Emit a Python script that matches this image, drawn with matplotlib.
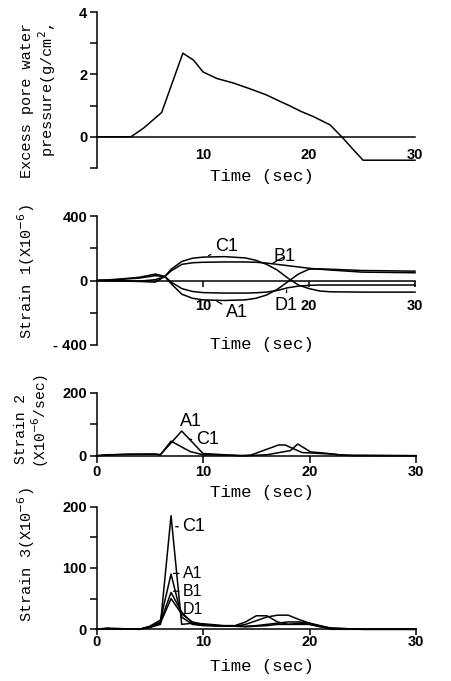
import matplotlib
matplotlib.use("Agg")
import matplotlib.pyplot as plt
from matplotlib.ticker import MultipleLocator

# panel 1: excess pore water pressure
t_pwp = [0, 3.2, 4.4, 6.1, 8.1, 9.1, 10.0, 11.3, 12.9, 14.5, 16.0, 17.3, 18.2, 19.2, 20.4, 22.0, 23.2, 24.2, 25.1, 30]
pwp = [0, 0, 0.28, 0.78, 2.68, 2.46, 2.08, 1.87, 1.72, 1.53, 1.34, 1.13, 0.99, 0.82, 0.65, 0.38, -0.04, -0.42, -0.75, -0.75]

# panel 2: strain 1
t_s1 = [0, 2, 4, 5.5, 6.4, 7, 8, 9, 10, 12, 14, 15, 16, 17, 18, 19, 20, 21, 22, 25, 30]
s1_a1 = [0, 8, 20, 40, 25, -20, -85, -110, -120, -124, -120, -110, -90, -55, -8, 40, 70, 72, 70, 62, 58]
s1_b1 = [0, 6, 15, 30, 25, 60, 100, 110, 113, 115, 115, 113, 108, 100, 92, 84, 76, 70, 65, 52, 48]
s1_c1 = [0, -3, -6, -10, 25, 70, 118, 138, 145, 148, 140, 125, 100, 65, 15, -28, -50, -65, -70, -72, -72]
s1_d1 = [0, -2, -4, 5, 25, -10, -50, -68, -75, -78, -78, -76, -72, -62, -45, -35, -30, -28, -28, -28, -28]

# panel 3: strain 2 (rate)
t_s2_a1 = [0, 1, 3, 5.5, 6, 8.0, 10, 12, 13.5, 14.5, 17.1, 17.7, 19.3, 20.5, 22, 24, 30]
s2_a1 = [0, 3, 4, 5, 3, 78, 7, 3, 0, 2, 34, 34, 10, 8, 5, 0, 0]
t_s2_c1 = [0, 1, 3, 5.5, 6, 7.0, 8.8, 10, 12, 14, 16, 17.5, 18.2, 18.9, 20.1, 21.5, 23, 30]
s2_c1 = [0, 2, 5, 5, 3, 46, 13, 3, 2, 0, 3, 12, 16, 37, 12, 8, 2, 0]

# panel 4: strain 3
t_s3 = [0, 1, 4, 5, 6, 7, 8, 9, 10, 12, 13, 14, 15, 16, 17, 18, 19, 20, 21, 22, 25, 30]
s3_c1 = [0, 2, 0, 3, 8, 185, 8, 10, 9, 6, 6, 12, 22, 22, 12, 8, 8, 8, 4, 1, 0, 0]
s3_a1 = [0, 1, 0, 5, 15, 90, 20, 8, 6, 5, 5, 8, 14, 20, 23, 23, 16, 10, 5, 0, 0, 0]
s3_b1 = [0, 1, 0, 4, 12, 60, 28, 10, 7, 5, 5, 5, 6, 8, 10, 12, 12, 10, 6, 2, 0, 0]
s3_d1 = [0, 1, 0, 3, 10, 50, 25, 12, 8, 5, 5, 4, 5, 6, 8, 8, 10, 8, 5, 2, 0, 0]

W, H = 451, 681
fig = plt.figure(figsize=(W / 100, H / 100), dpi=100)

tickfont = dict(family="Liberation Sans", weight="bold", size=10.5)
mono = "Liberation Mono"
lab = dict(family="Liberation Sans", size=13)
lab_small = dict(family="Liberation Sans", size=11.5)


def box(x0, ytop, x1, ybot):
    return [x0 / W, (H - ybot) / H, (x1 - x0) / W, (ybot - ytop) / H]


def style(ax, ylim, major, minor, xticks, tick_len, pad, zero_axis):
    ax.set_xlim(0, 30)
    ax.set_ylim(*ylim)
    for s in ["top", "right"]:
        ax.spines[s].set_visible(False)
    for s in ["left", "bottom"]:
        ax.spines[s].set_linewidth(1.1)
    if zero_axis:
        ax.spines["bottom"].set_position(("data", 0))
    ax.set_yticks(major)
    ax.yaxis.set_minor_locator(MultipleLocator(minor))
    ax.set_xticks(xticks)
    ax.tick_params(axis="y", which="both", direction="out", length=5, width=1.1, pad=2)
    ax.tick_params(axis="x", direction="out", length=tick_len, width=1.1, pad=pad)
    for t in ax.get_xticklabels() + ax.get_yticklabels():
        t.set(**tickfont)
    ax.patch.set_alpha(0)


def ptext(x, y, s, **kw):
    fig.text(x / W, 1 - y / H, s, ha="center", va="center", **kw)


def lead(ax, s, xy, xyt, font=lab):
    ax.annotate(s, xy=xy, xytext=xyt, ha="center", va="center",
                arrowprops=dict(arrowstyle="-", lw=0.9, color="black", shrinkA=1, shrinkB=1), **font)


line = dict(color="black", lw=1.1, clip_on=False)

# panel 1
ax1 = fig.add_axes(box(97, 12, 415, 168))
ax1.plot(t_pwp, pwp, **line)
style(ax1, (-1, 4), [0, 2, 4], 1, [10, 20, 30], 0, 8, True)
ax1.set_yticklabels(["0", "2", "4"])

# panel 2
ax2 = fig.add_axes(box(97, 216, 415, 345))
for s in [s1_a1, s1_b1, s1_c1, s1_d1]:
    ax2.plot(t_s1, s, **line)
style(ax2, (-400, 400), [-400, 0, 400], 200, [10, 20, 30], 4, 9, True)
ax2.set_yticklabels(["- 400", "0", "400"])
lead(ax2, "C1", (10.4, 150), (12.2, 210))
lead(ax2, "B1", (16.5, 105), (17.7, 148))
lead(ax2, "A1", (11.2, -125), (13.2, -197))
lead(ax2, "D1", (17.9, -50), (17.8, -154))

# panel 3
ax3 = fig.add_axes(box(96.5, 392.5, 416, 455.7))
ax3.plot(t_s2_a1, s2_a1, **line)
ax3.plot(t_s2_c1, s2_c1, **line)
style(ax3, (0, 200), [0, 200], 100, [0, 10, 20, 30], 5, 2, False)
ax3.text(8.9, 107, "A1", ha="center", va="center", **lab)
lead(ax3, "C1", (8.6, 52), (10.4, 50))

# panel 4
ax4 = fig.add_axes(box(96.5, 506.5, 416, 629.3))
for s in [s3_c1, s3_a1, s3_b1, s3_d1]:
    ax4.plot(t_s3, s, **line)
style(ax4, (0, 200), [0, 100, 200], 50, [0, 10, 20, 30], 4, 0, False)
lead(ax4, "C1", (7.3, 167), (9.15, 167))
lead(ax4, "A1", (7.1, 91), (9.05, 91), lab_small)
lead(ax4, "B1", (7.1, 62), (9.05, 62), lab_small)
lead(ax4, "D1", (7.6, 40), (9.05, 33), lab_small)

# axis titles
for y in [177, 344, 492, 667]:
    ptext(262, y, "Time (sec)", family=mono, size=12.5)
ptext(27, 100, "Excess pore water", family=mono, size=11, rotation=90)
ptext(47, 90, "pressure(g/cm$^2$,", family=mono, size=11, rotation=90)
ptext(26, 272, "Strain 1(X10$^{-6}$)", family=mono, size=11, rotation=90)
ptext(21, 429, "Strain 2", family=mono, size=10.5, rotation=90)
ptext(40, 421, "(X10$^{-6}$/sec)", family=mono, size=10.5, rotation=90)
ptext(26, 555, "Strain 3(X10$^{-6}$)", family=mono, size=11, rotation=90)

fig.savefig("out.png", dpi=100)
